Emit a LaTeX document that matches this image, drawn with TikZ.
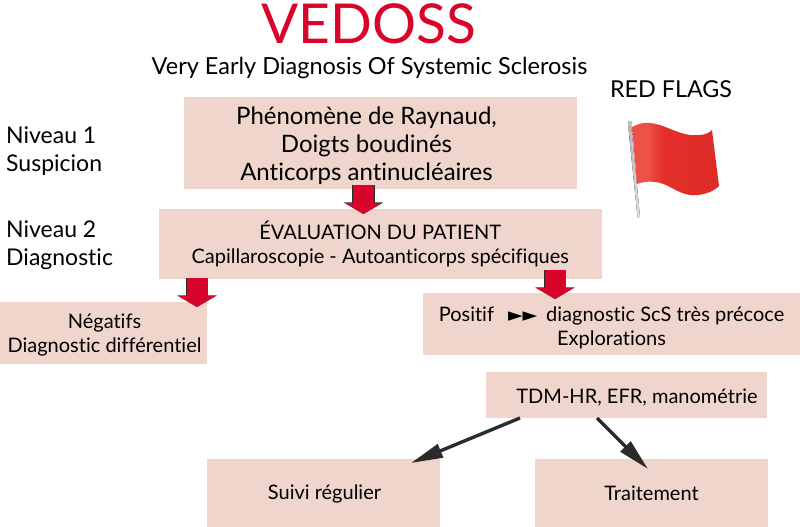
\documentclass[tikz,border=0pt]{standalone}
\usepackage{fontspec}
\setmainfont[Ligatures=NoCommon]{Lato}
\newfontfamily\symfont{DejaVu Sans}
\usetikzlibrary{arrows.meta,calc}
\definecolor{boxpink}{HTML}{F0D5CC}
\definecolor{vedred}{HTML}{D9042B}
\definecolor{arrowdark}{HTML}{2B2B2B}
\definecolor{flagbase}{HTML}{E5302A}
\definecolor{flaglight}{HTML}{EC5248}
\definecolor{flagdark}{HTML}{DD2A24}
\pgfdeclarehorizontalshading{flagshade}{100bp}{
  color(0bp)=(flagbase);
  color(14bp)=(flagbase);
  color(20bp)=(flaglight);
  color(34bp)=(flaglight);
  color(42bp)=(flagbase);
  color(80bp)=(flagdark);
  color(100bp)=(flagdark)}
\tikzset{
  pinkbox/.style={fill=boxpink,draw=none,inner sep=0pt,align=center,text=black},
  lbl/.style={inner sep=0pt,align=center,text=black},
  sidelbl/.style={inner sep=0pt,anchor=base west,align=left,text=black},
  blockarrow/.style={line width=21pt,color=vedred,-{Triangle[length=11pt,width=37pt]},
    preaction={draw=arrowdark,line width=22.2pt,-{Triangle[length=11.6pt,width=39pt]}}},
  thinarrow/.style={line width=3.4pt,color=arrowdark,-{Triangle[length=32pt,width=14pt]}}
}
\begin{document}
\begin{tikzpicture}[x=1pt,y=-1pt]
\useasboundingbox (0,0) rectangle (800,527);
% title
\node[lbl,text=vedred,font=\fontsize{55}{55}\selectfont] (title) at (369,24) {VEDOSS};
\node[lbl,font=\fontsize{23.5}{28}\selectfont] (subtitle) at (369.5,68) {Very Early Diagnosis Of Systemic Sclerosis};
\node[lbl,font=\fontsize{23.3}{28}\selectfont] (flagtxt) at (671,89) {RED FLAGS};
% boxes
\node[pinkbox,minimum width=393pt,minimum height=92pt] (b1) at (380.5,143) {};
\node[lbl,font=\fontsize{24}{28}\selectfont] (t1) at (366.5,146) {Phénomène de Raynaud,\\Doigts boudinés\\Anticorps antinucléaires};
\node[pinkbox,minimum width=443.5pt,minimum height=70.5pt,font=\fontsize{20}{24}\selectfont] (b2) at (380.25,243.75) {ÉVALUATION DU PATIENT\\Capillaroscopie - Autoanticorps spécifiques};
\node[pinkbox,minimum width=207pt,minimum height=62pt] (b3) at (103.5,333) {};
\node[lbl,font=\fontsize{20}{24}\selectfont] (t3) at (104.5,335.5) {Négatifs\\Diagnostic différentiel};
\node[pinkbox,minimum width=377pt,minimum height=62pt] (b4) at (611.5,324) {};
\node[lbl,font=\fontsize{20}{24}\selectfont] (t4) at (611.5,327.5) {Positif\hspace{14pt}{\symfont\fontsize{19}{19}\selectfont ►►}\hspace{9pt}diagnostic ScS très précoce\\Explorations};
\node[pinkbox,minimum width=281pt,minimum height=46pt] (b5) at (626.5,395) {};
\node[lbl,font=\fontsize{20}{24}\selectfont] (t5) at (637,398) {TDM-HR, EFR, manométrie};
\node[pinkbox,minimum width=233pt,minimum height=68pt] (b6) at (323.5,493) {};
\node[lbl,font=\fontsize{20}{24}\selectfont] (t6) at (324.5,494) {Suivi régulier};
\node[pinkbox,minimum width=233pt,minimum height=68pt,font=\fontsize{20}{24}\selectfont] (b7) at (651.5,493) {Traitement};
% side labels
\node[sidelbl,font=\fontsize{23}{28}\selectfont] (n1) at (6,143) {Niveau 1};
\node[sidelbl,font=\fontsize{23}{28}\selectfont] (s1) at (6,171) {Suspicion};
\node[sidelbl,font=\fontsize{23}{28}\selectfont] (n2) at (6,237) {Niveau 2};
\node[sidelbl,font=\fontsize{23}{28}\selectfont] (s2) at (6,265) {Diagnostic};
% connectors
\coordinate (a1s) at (363.5,185);
\coordinate (a1e) at (363.5,214);
\coordinate (a2s) at (197,278);
\coordinate (a2e) at (197,307);
\coordinate (a3s) at (555,270);
\coordinate (a3e) at (555,299);
\draw[blockarrow] (a1s) -- (a1e);
\draw[blockarrow] (a2s) -- (a2e);
\draw[blockarrow] (a3s) -- (a3e);
\coordinate (c1s) at (520,418);
\coordinate (c1e) at (411,463);
\coordinate (c2s) at (597,418);
\coordinate (c2e) at (648,469);
\draw[thinarrow] (c1s) -- (c1e);
\draw[thinarrow] (c2s) -- (c2e);
% flag
\fill[left color=gray!60,right color=gray!20] (628,124) -- (631,124) -- (640,217) -- (637.5,217) -- cycle;
\fill[gray!50] (630,123) circle (2.5pt);
\path[shade,shading=flagshade] (632,127) .. controls (638,124) and (644,122) .. (650,123)
  .. controls (668,125) and (680,137) .. (699,135)
  .. controls (705,135) and (709,133) .. (712,130)
  -- (719,186)
  .. controls (712,193) and (700,196) .. (690,195)
  .. controls (676,193) and (668,183) .. (655,182)
  .. controls (648,181) and (642,182) .. (637,184) -- cycle;
\end{tikzpicture}
\end{document}
